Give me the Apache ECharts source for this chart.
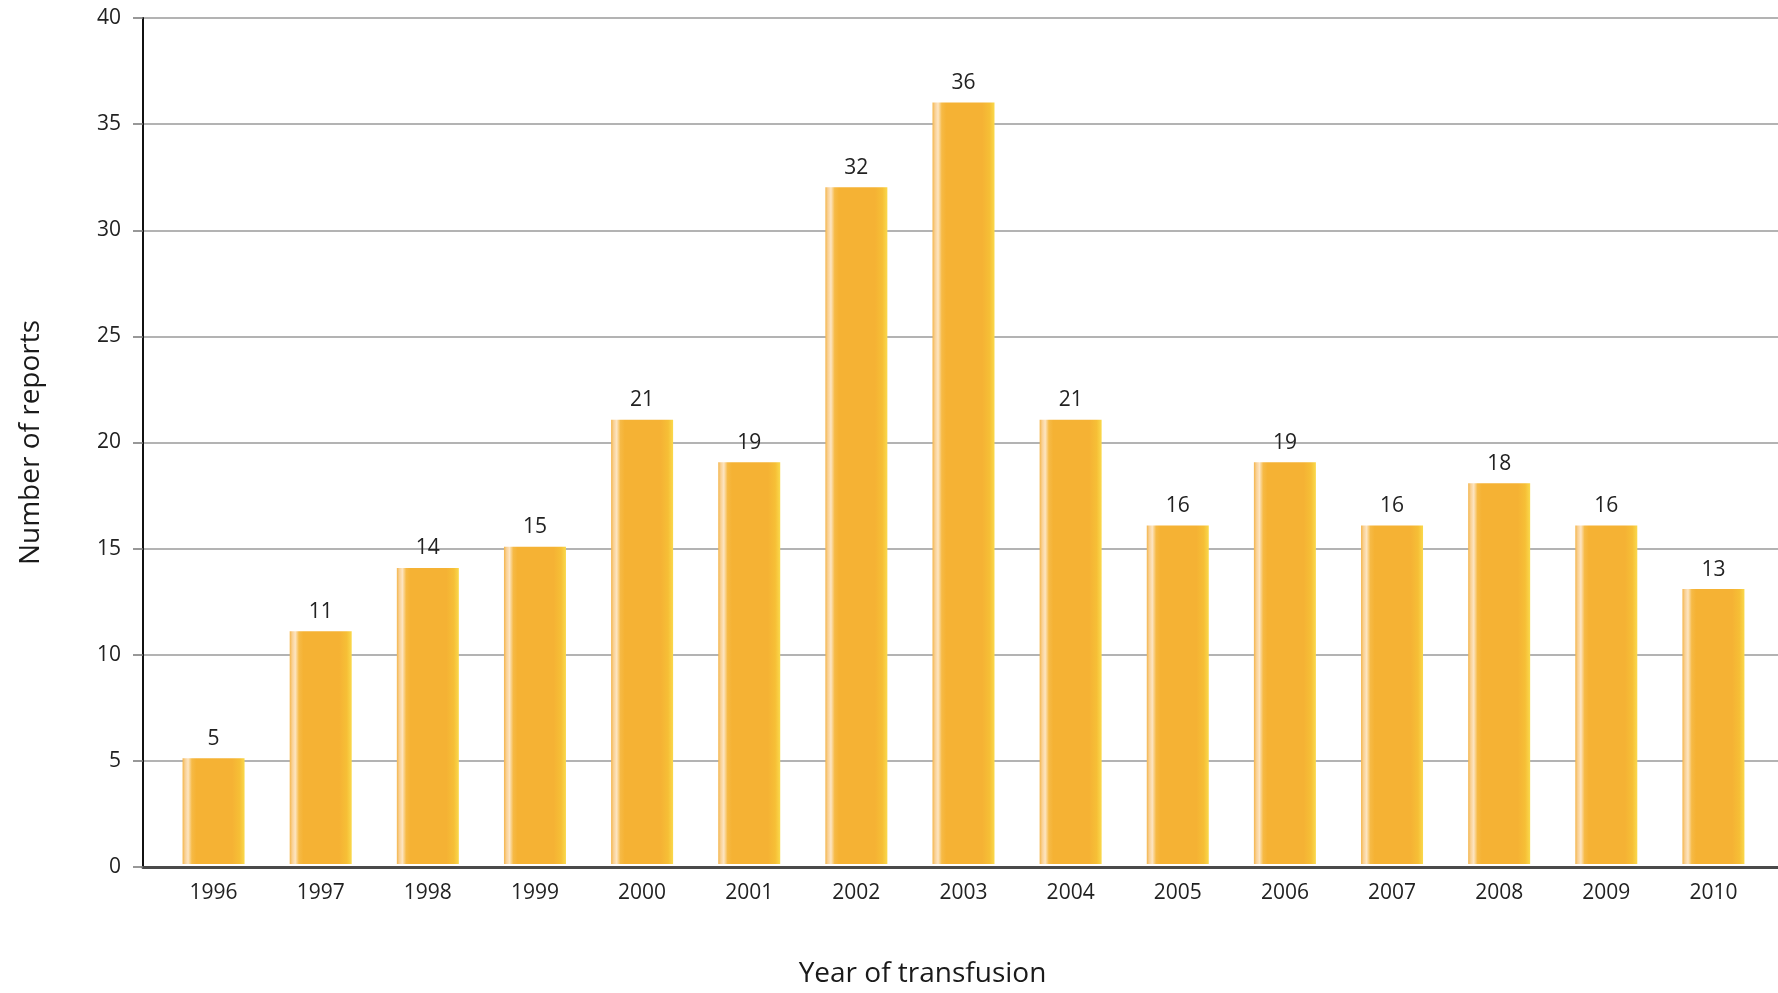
<!DOCTYPE html>
<html>
<head>
<meta charset="utf-8">
<script src="https://cdn.jsdelivr.net/npm/echarts@6/dist/echarts.min.js"></script>
<style>
  html, body { margin: 0; padding: 0; background: #fff; }
  #chart { width: 1778px; height: 993px; }
</style>
</head>
<body>
<div id="chart"></div>
<script>
var years = ['1996', '1997', '1998', '1999', '2000', '2001', '2002', '2003', '2004', '2005', '2006', '2007', '2008', '2009', '2010'];
var reports = [5, 11, 14, 15, 21, 19, 32, 36, 21, 16, 19, 16, 18, 16, 13];
var yMin = 0, yMax = 40, yStep = 5;

var chart = echarts.init(document.getElementById('chart'));
var font = '"Open Sans", "Noto Sans", sans-serif';

// bar fill: orange with pale stripe at left and yellowish right edge
var barFill = new echarts.graphic.LinearGradient(0, 0, 1, 0, [
    {offset: 0, color: '#f4b54a'},
    {offset: 0.04, color: '#f9d093'},
    {offset: 0.09, color: '#fde5c2'},
    {offset: 0.15, color: '#f6ba46'},
    {offset: 0.22, color: '#f5b234'},
    {offset: 0.8, color: '#f5b234'},
    {offset: 0.92, color: '#f6bf36'},
    {offset: 1, color: '#fad94c'}
]);

var option = {
    backgroundColor: '#fff',
    textStyle: {fontFamily: font},
    grid: [
        {left: 143, right: 0, top: 18, bottom: 126},
        {left: 160, right: 11, top: 18, bottom: 126}
    ],
    xAxis: [
        {
            gridIndex: 0,
            type: 'value',
            min: 0,
            max: 1,
            axisLine: {show: true, lineStyle: {color: '#4a4a4a', width: 3}},
            axisTick: {show: false},
            axisLabel: {show: false},
            splitLine: {show: false}
        },
        {
            gridIndex: 1,
            type: 'category',
            data: years,
            axisLine: {show: false},
            axisTick: {show: false},
            axisLabel: {fontSize: 21, color: '#222', margin: 19, fontFamily: font},
            name: 'Year of transfusion',
            nameLocation: 'middle',
            nameGap: 96,
            nameTextStyle: {fontSize: 28, color: '#1a1a1a', fontFamily: font, padding: [0, 82, 0, 0]}
        }
    ],
    yAxis: [
        {
            gridIndex: 0,
            type: 'value',
            min: yMin,
            max: yMax,
            interval: yStep,
            axisLine: {show: true, lineStyle: {color: '#111', width: 2}},
            axisTick: {show: true, length: 10, lineStyle: {color: '#777', width: 1.5}},
            axisLabel: {fontSize: 21, color: '#222', margin: 22, fontFamily: font},
            splitLine: {show: true, lineStyle: {color: '#9a9a9a', width: 1.5}},
            name: 'Number of reports',
            nameLocation: 'middle',
            nameGap: 98,
            nameTextStyle: {fontSize: 28, color: '#1a1a1a', fontFamily: font}
        },
        {
            gridIndex: 1,
            type: 'value',
            min: yMin,
            max: yMax,
            show: false
        }
    ],
    series: [
        {
            type: 'bar',
            xAxisIndex: 1,
            yAxisIndex: 1,
            data: reports,
            barWidth: 62,
            itemStyle: {color: barFill},
            label: {
                show: true,
                position: 'top',
                distance: 9,
                fontSize: 21,
                color: '#222',
                fontFamily: font
            }
        }
    ]
};

chart.setOption(option);
</script>
</body>
</html>
